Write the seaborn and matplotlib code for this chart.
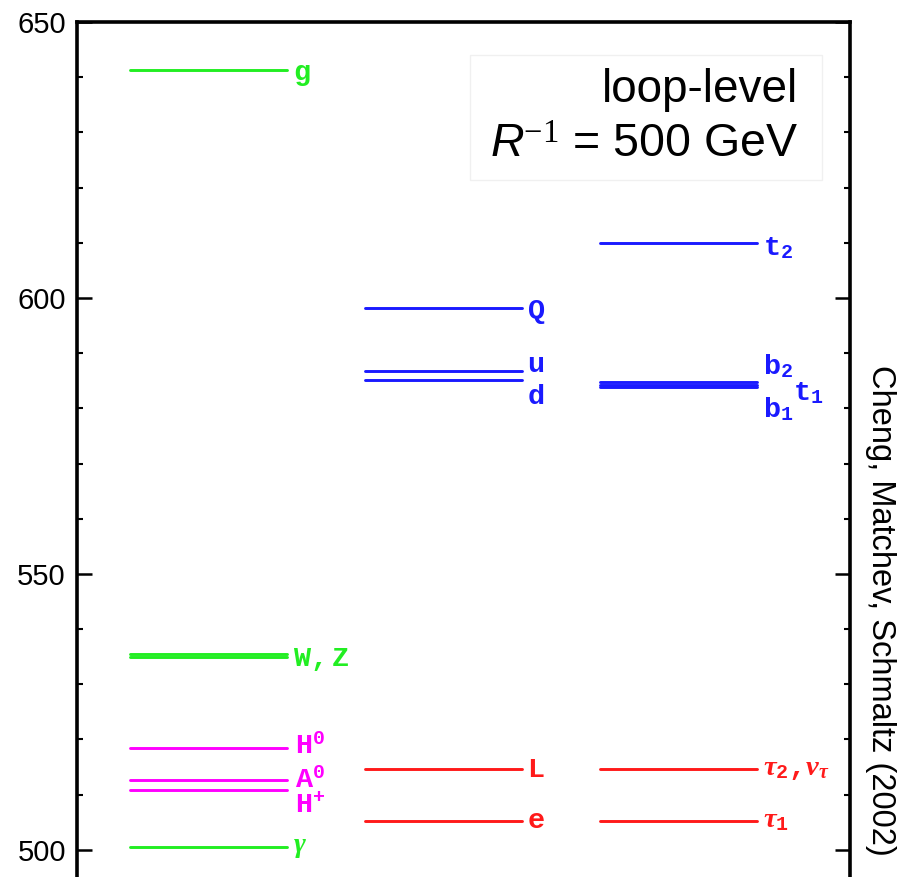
import matplotlib
matplotlib.use("Agg")
import matplotlib.pyplot as plt
import seaborn as sns
import pandas as pd
from matplotlib.patches import Rectangle
from matplotlib.ticker import MultipleLocator

# ---------------- data ----------------
particles = ['g', 'W', 'Z', 'H0', 'A0', 'H+', 'gamma',
             'Q', 'u', 'd', 'L', 'e',
             't2', 'b2', 't1', 'b1', 'tau2', 'tau1']
columns = [0, 0, 0, 0, 0, 0, 0,
           1, 1, 1, 1, 1,
           2, 2, 2, 2, 2, 2]
masses = [641.3, 535.0, 535.4, 518.4, 512.6, 510.8, 500.5,
          598.1, 586.8, 585.1, 514.6, 505.2,
          609.9, 584.8, 584.3, 583.9, 514.6, 505.2]
groups = ['gauge', 'gauge', 'gauge', 'higgs', 'higgs', 'higgs', 'gauge',
          'quark', 'quark', 'quark', 'lepton', 'lepton',
          'quark', 'quark', 'quark', 'quark', 'lepton', 'lepton']

label_texts = [r'$\mathtt{g}$', r'$\mathtt{W,Z}$', r'$\mathtt{H}^\mathtt{0}$',
               r'$\mathtt{A}^\mathtt{0}$', r'$\mathtt{H}^\mathtt{+}$', r'$\gamma$',
               r'$\mathtt{Q}$', r'$\mathtt{u}$', r'$\mathtt{d}$',
               r'$\mathtt{L}$', r'$\mathtt{e}$',
               r'$\mathtt{t}_\mathtt{2}$', r'$\mathtt{b}_\mathtt{2}$',
               r'$\mathtt{t}_\mathtt{1}$', r'$\mathtt{b}_\mathtt{1}$',
               r'$\tau_\mathtt{2}\mathtt{,}\nu_\tau$', r'$\tau_\mathtt{1}$']
label_anchor = ['g', 'Z', 'H0', 'A0', 'H+', 'gamma', 'Q', 'u', 'd', 'L', 'e',
                't2', 'b2', 't1', 'b1', 'tau2', 'tau1']

y_ticks = [500, 550, 600, 650]
credit = 'Cheng, Matchev, Schmaltz (2002)'
title_lines = ['loop-level', r'$\mathsf{R}^{-1}$ = 500 GeV']

# ---------------- styles ----------------
palette = {'gauge': '#22ee22', 'higgs': '#ff00ff', 'quark': '#1a1aff', 'lepton': '#ff1a1a'}
half = 0.334
# label offsets (pixels: dx, dy-down of baseline relative to line)
label_offsets = {'g': (6, 10), 'Z': (6, 12), 'H0': (8, 5), 'A0': (8, 7), 'H+': (8, 22),
                 'gamma': (6, 5), 'Q': (5, 10), 'u': (5, 1), 'd': (5, 24),
                 'L': (5, 8), 'e': (5, 7), 't2': (6, 12), 'b2': (6, -8),
                 't1': (36, 15), 'b1': (6, 30), 'tau2': (6, 6), 'tau1': (6, 6)}

sns.set_style('ticks')
plt.rcParams['font.family'] = ['Liberation Sans', 'DejaVu Sans']
plt.rcParams['text.color'] = 'black'
plt.rcParams['ytick.color'] = 'black'
plt.rcParams['ytick.labelcolor'] = 'black'
plt.rcParams['mathtext.fontset'] = 'custom'
plt.rcParams['mathtext.rm'] = 'Liberation Serif'
plt.rcParams['mathtext.it'] = 'Liberation Serif:italic:bold'
plt.rcParams['mathtext.bf'] = 'Liberation Serif:bold'
plt.rcParams['mathtext.tt'] = 'Liberation Mono:bold'
plt.rcParams['mathtext.sf'] = 'Liberation Sans:italic'

# long-form segment table
rows = []
for p, c, m, g in zip(particles, columns, masses, groups):
    rows.append({'particle': p, 'x': c - half, 'mass': m, 'group': g})
    rows.append({'particle': p, 'x': c + half, 'mass': m, 'group': g})
df = pd.DataFrame(rows)

fig = plt.figure(figsize=(8.99, 8.77), dpi=100)
ax = fig.add_axes([77 / 899, -0.0068, 773 / 899, 0.9817])

sns.lineplot(data=df, x='x', y='mass', hue='group', units='particle',
             estimator=None, palette=palette, linewidth=2.1, legend=False,
             ax=ax, sort=False)

ax.set_xlim(-0.56, 2.73)
ax.set_ylim(494, 650)
ax.set_xticks([])
ax.set_yticks(y_ticks)
ax.yaxis.set_minor_locator(MultipleLocator(10))
ax.set_xlabel('')
ax.set_ylabel('')
ax.tick_params(axis='y', which='major', direction='in', length=11, width=1.8,
               left=True, right=True, labelsize=21, pad=8, colors='black')
ax.tick_params(axis='y', which='minor', direction='in', length=4, width=1.5,
               left=True, right=True, colors='black')
for s in ax.spines.values():
    s.set_linewidth(2.6)
    s.set_color('black')

mass_of = dict(zip(particles, masses))
col_of = dict(zip(particles, columns))
for txt, anc in zip(label_texts, label_anchor):
    dx, dy = label_offsets[anc]
    ax.annotate(txt, xy=(col_of[anc] + half, mass_of[anc]),
                xytext=(dx * 0.72, -dy * 0.72), textcoords='offset points',
                ha='left', va='baseline', fontsize=20.5,
                color=palette[groups[particles.index(anc)]])

# inset box
ax.add_patch(Rectangle((0.508, 0.8165), 0.456, 0.145, transform=ax.transAxes,
                       facecolor='white', edgecolor='#f0f0f0', linewidth=1.0, zorder=3))
ax.text(0.9327, 0.907, title_lines[0], transform=ax.transAxes, ha='right',
        va='baseline', fontsize=33, zorder=4)
ax.text(0.9327, 0.842, title_lines[1], transform=ax.transAxes, ha='right',
        va='baseline', fontsize=33.5, zorder=4)

fig.text(0.979, 0.3045, credit, rotation=-90, ha='center', va='center', fontsize=23.5)

fig.savefig('out.png', dpi=100, facecolor='white')
